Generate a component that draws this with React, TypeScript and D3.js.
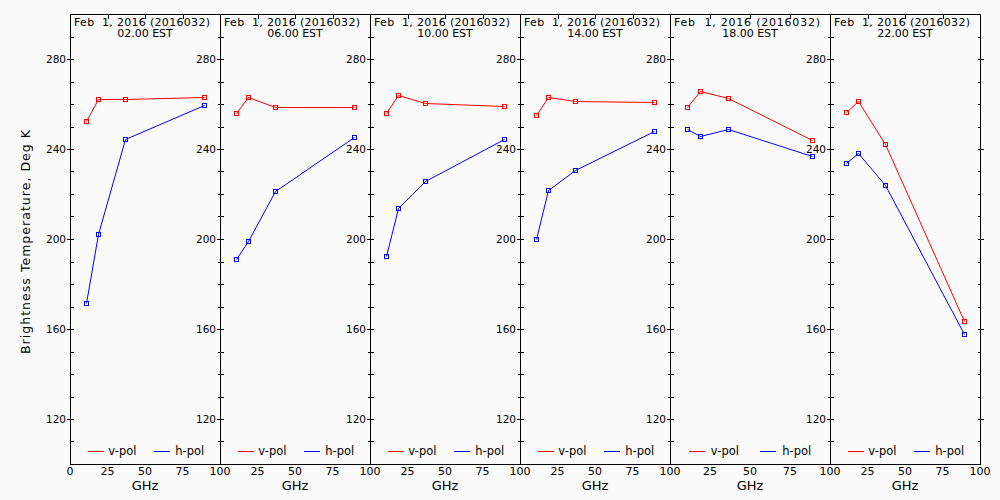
import React from "react";
import * as d3 from "d3";

const freqs = [10.65, 18.7, 36.5, 89.0];
const times = ["02.00", "06.00", "10.00", "14.00", "18.00", "22.00"];
const dateLabel = "Feb  1, 2016 (2016032)";
const vpol = [
  [252.6, 262.1, 262.1, 263.3],
  [256.1, 263.3, 258.8, 258.7],
  [256.1, 264.1, 260.6, 259.1],
  [255.3, 263.3, 261.5, 261.0],
  [258.8, 265.9, 262.8, 244.1],
  [256.6, 261.3, 242.4, 163.7],
];
const hpol = [
  [171.7, 202.4, 244.4, 259.7],
  [191.2, 199.3, 221.5, 245.5],
  [192.6, 213.9, 225.9, 244.6],
  [200.1, 221.9, 230.8, 248.1],
  [249.0, 245.9, 249.0, 237.0],
  [233.9, 238.4, 224.0, 157.9],
];
const xTicks = [0, 25, 50, 75, 100];
const yMajor = [120, 160, 200, 240, 280];
const yMinor = d3.range(110, 300, 10);
const seriesNames = ["v-pol", "h-pol"];
const seriesColors = ["#ff0000", "#0000ff"];

const edges = [70, 220, 370, 520, 670, 830, 980];
const TOP = 14;
const BOTTOM = 464;
const FONT = "'DejaVu Sans', sans-serif";

const y = d3.scaleLinear().domain([100, 300]).range([BOTTOM, TOP]);

function Panel({ i }: { i: number }) {
  const x0 = edges[i];
  const x1 = edges[i + 1];
  const w = x1 - x0;
  const x = d3.scaleLinear().domain([0, 100]).range([x0, x1]);
  const line = d3
    .line<number>()
    .x((_, k) => Math.round(x(freqs[k])) + 0.5)
    .y((v) => Math.round(y(v)) + 0.5);
  const series = [vpol[i], hpol[i]];
  const cx = (x0 + x1) / 2;
  const ly = 451;
  const L = x0 + 0.5;
  const R = x1 + 0.5;
  return (
    <g>
      {yMinor.map((t) => {
        const yy = Math.round(y(t)) + 0.5;
        const major = yMajor.includes(t);
        return (
          <g key={"l" + t}>
            <line x1={major ? L - 4 : L} x2={L + 3} y1={yy} y2={yy} stroke="#000" shapeRendering="crispEdges" />
            <line x1={R - 3} x2={i === 5 && major ? R + 3 : R} y1={yy} y2={yy} stroke="#000" shapeRendering="crispEdges" />
          </g>
        );
      })}
      {yMajor.map((t) => (
        <text key={"yl" + t} x={x0 - 4} y={y(t)} dy="0.35em" textAnchor="end" fontSize={10.5} fontFamily={FONT} fill="#000">
          {t}
        </text>
      ))}
      {[25, 50, 75].map((t) => (
        <line key={"tt" + t} x1={Math.round(x(t)) + 0.5} x2={Math.round(x(t)) + 0.5} y1={TOP} y2={TOP + 5} stroke="#000" shapeRendering="crispEdges" />
      ))}
      {xTicks
        .filter((t) => i === 0 || t > 0)
        .map((t) => (
          <text key={"xl" + t} x={x(t)} y={475} textAnchor="middle" fontSize={11} fontFamily={FONT} fill="#000">
            {t}
          </text>
        ))}
      <text x={cx} y={490} textAnchor="middle" fontSize={13} fontFamily={FONT} fill="#000">
        GHz
      </text>
      <text x={x0 + 4} y={26} fontSize={11} fontFamily={FONT} fill="#000" textLength={w - 14} style={{ whiteSpace: "pre" }}>
        {dateLabel}
      </text>
      <text x={cx} y={37} textAnchor="middle" fontSize={11} fontFamily={FONT} fill="#000">
        {times[i] + " EST"}
      </text>
      {series.map((vals, s) => (
        <g key={"s" + s}>
          <path d={line(vals) || ""} fill="none" stroke={seriesColors[s]} strokeWidth={1} />
          {vals.map((v, k) => (
            <rect
              key={k}
              x={Math.round(x(freqs[k])) - 1.5}
              y={Math.round(y(v)) - 1.5}
              width={4}
              height={4}
              fill="none"
              stroke={seriesColors[s]}
              strokeWidth={1}
              shapeRendering="crispEdges"
            />
          ))}
        </g>
      ))}
      {seriesNames.map((nm, s) => {
        const ls = Math.round(x0 + w * (s === 0 ? 0.12 : 0.56));
        const ts = x0 + w * (s === 0 ? 0.255 : 0.702);
        return (
          <g key={"lg" + s}>
            <rect x={ls} y={ly} width={16} height={1} fill={seriesColors[s]} shapeRendering="crispEdges" />
            <text x={ts} y={ly} dy="0.35em" fontSize={11.5} fontFamily={FONT} fill="#000">
              {nm}
            </text>
          </g>
        );
      })}
      <line x1={L} x2={L} y1={TOP} y2={BOTTOM} stroke="#000" shapeRendering="crispEdges" />
    </g>
  );
}

export default function App() {
  return (
    <svg width={1000} height={500} style={{ position: "absolute", left: 0, top: 0, background: "#fafafa" }}>
      <rect x={0} y={0} width={1000} height={500} fill="#fafafa" />
      {times.map((_, i) => (
        <Panel key={i} i={i} />
      ))}
      <line x1={edges[0]} x2={edges[6] + 1} y1={TOP + 0.5} y2={TOP + 0.5} stroke="#000" shapeRendering="crispEdges" />
      <line x1={edges[0]} x2={edges[6] + 1} y1={BOTTOM + 0.5} y2={BOTTOM + 0.5} stroke="#000" shapeRendering="crispEdges" />
      <line x1={edges[6] + 0.5} x2={edges[6] + 0.5} y1={TOP} y2={BOTTOM + 1} stroke="#000" shapeRendering="crispEdges" />
      <text
        transform={`translate(30,242) rotate(-90)`}
        textAnchor="middle"
        fontSize={12.5}
        fontFamily={FONT}
        fill="#000"
        textLength={224}
      >
        Brightness Temperature, Deg K
      </text>
    </svg>
  );
}
